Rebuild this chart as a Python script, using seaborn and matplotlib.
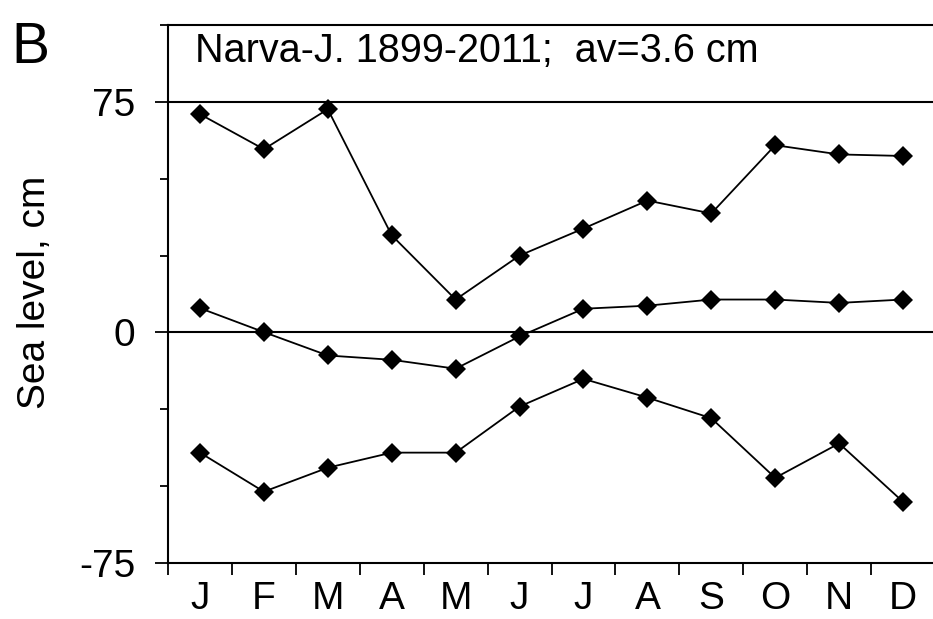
import numpy as np
import pandas as pd
import matplotlib
matplotlib.use("Agg")
import matplotlib.pyplot as plt
import seaborn as sns

# Monthly sea level at Narva-Jõesuu (cm): maxima, means and minima
months = ["J", "F", "M", "A", "M", "J", "J", "A", "S", "O", "N", "D"]
level_max = [71.0, 59.6, 72.6, 31.6, 10.7, 25.0, 33.8, 42.9, 38.7, 60.9, 57.9, 57.4]
level_mean = [7.9, 0.1, -7.5, -8.9, -11.8, -1.3, 7.7, 8.7, 10.7, 10.7, 9.6, 10.7]
level_min = [-39.1, -51.8, -44.0, -39.1, -39.1, -24.1, -15.1, -21.2, -27.9, -47.3, -36.1, -55.1]

y_major = [-75, 0, 75]
y_minor = [-50, -25, 25, 50, 100]

sns.set_style("ticks")
plt.rcParams["font.family"] = ["Liberation Sans", "DejaVu Sans"]
plt.rcParams.update({
    "text.color": "black",
    "axes.labelcolor": "black",
    "xtick.color": "black",
    "ytick.color": "black",
    "axes.edgecolor": "black",
})

W, H = 933, 619
fig = plt.figure(figsize=(W / 100, H / 100), dpi=100)
ax = fig.add_axes([168 / W, (H - 563) / H, (935 - 168) / W, (563 - 25) / H])

pos = np.arange(len(months))
df = pd.DataFrame({
    "month": np.tile(pos, 3),
    "level": level_max + level_mean + level_min,
    "series": np.repeat(["max", "mean", "min"], len(months)),
})

# reference lines at 75 cm and 0 cm
for yv in (75, 0):
    ax.axhline(yv, color="black", lw=1.5, zorder=1)

for name, sub in df.groupby("series"):
    sns.lineplot(data=sub, x="month", y="level", ax=ax, color="black",
                 lw=1.3, marker="D", markersize=10, markeredgewidth=0,
                 markerfacecolor="black", zorder=3, legend=False)

ax.set_xlim(-0.5, 11.5)
ax.set_ylim(-75, 100)

# month boundaries as ticks, month names centred between them
ax.set_xticks(np.arange(-0.5, 12, 1.0))
ax.set_xticklabels([])
ax.set_xticks(pos, minor=True)
ax.set_xticklabels(months, minor=True, fontsize=28)
ax.tick_params(axis="x", which="major", length=8.6, width=1.3, direction="out")
ax.tick_params(axis="x", which="minor", length=0, pad=13)

ax.set_yticks(y_major)
ax.set_yticklabels([str(v) for v in y_major], fontsize=28)
ax.set_yticks(y_minor, minor=True)
ax.tick_params(axis="y", which="major", length=9.4, width=1.3, direction="out", pad=14)
ax.tick_params(axis="y", which="minor", length=6, width=1.3, direction="out")

for side in ("left", "bottom", "top", "right"):
    ax.spines[side].set_linewidth(1.5)
    ax.spines[side].set_color("black")

ax.set_xlabel("")
ax.set_ylabel("")

fig.text(35 / W, 1 - 292 / H, "Sea level, cm", rotation=90, ha="center",
         va="center", fontsize=28)
fig.text(11 / W, 1 - 63 / H, "B", ha="left", va="baseline", fontsize=41)
fig.text(195 / W, 1 - 62 / H, "Narva-J. 1899-2011;  av=3.6 cm", ha="left",
         va="baseline", fontsize=28.5)

fig.savefig("out.png", dpi=100)
